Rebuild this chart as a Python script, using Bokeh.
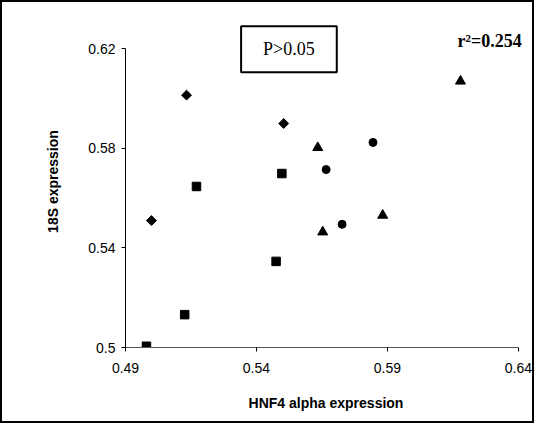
import math
from bokeh.plotting import figure
from bokeh.models import Range1d, FixedTicker, Label
from bokeh.embed import file_html
from bokeh.resources import INLINE

# Data
diamond_x = [0.5133, 0.5504, 0.4999]
diamond_y = [0.6014, 0.5900, 0.5510]
square_x = [0.5171, 0.5497, 0.5475, 0.5126, 0.4980]
square_y = [0.5647, 0.5699, 0.5346, 0.5132, 0.5005]
triangle_x = [0.6179, 0.5634, 0.5653, 0.5882]
triangle_y = [0.6070, 0.5803, 0.5464, 0.5531]
circle_x = [0.5845, 0.5666, 0.5727]
circle_y = [0.5824, 0.5715, 0.5495]

x_ticks = [0.49, 0.54, 0.59, 0.64]
x_tick_labels = ["0.49", "0.54", "0.59", "0.64"]
y_ticks = [0.50, 0.54, 0.58, 0.62]
y_tick_labels = ["0.5", "0.54", "0.58", "0.62"]

x_title = "HNF4 alpha expression"
y_title = "18S expression"
p_text = "P>0.05"
r2_text = "r\u00b2=0.254"

p = figure(width=534, height=423, output_backend="svg", toolbar_location=None,
           x_range=Range1d(0.49, 0.6431), y_range=Range1d(0.50, 0.6334),
           min_border_left=123, min_border_right=10, min_border_top=13,
           min_border_bottom=78)
p.styles = {"border": "2px solid black", "box-sizing": "border-box"}
p.outline_line_color = None
p.xgrid.visible = False
p.ygrid.visible = False
p.background_fill_color = "white"
p.border_fill_color = "white"

p.xaxis.ticker = FixedTicker(ticks=x_ticks)
p.xaxis.major_label_overrides = {t: l for t, l in zip(x_ticks, x_tick_labels)}
p.yaxis.ticker = FixedTicker(ticks=y_ticks)
p.yaxis.major_label_overrides = {t: l for t, l in zip(y_ticks, y_tick_labels)}
p.yaxis.bounds = (y_ticks[0], y_ticks[-1])
p.xaxis.bounds = (x_ticks[0], x_ticks[-1])

for ax in (p.xaxis[0], p.yaxis[0]):
    ax.minor_tick_line_color = None
    ax.major_tick_in = 0
    ax.major_tick_out = 4
    ax.major_tick_line_color = "black"
    ax.major_label_text_font = "Liberation Sans"
    ax.major_label_text_font_size = "14px"
    ax.major_label_text_color = "black"
    ax.axis_label_text_font = "Liberation Sans"
    ax.axis_label_text_font_size = "14px"
    ax.axis_label_text_font_style = "bold"
    ax.axis_label_text_color = "black"

p.xaxis.axis_line_color = "#555555"
p.yaxis.axis_line_color = "black"
p.xaxis.major_label_standoff = 11
p.yaxis.major_label_standoff = 6
p.xaxis.axis_label = x_title
p.yaxis.axis_label = y_title
p.xaxis.axis_label_standoff = 19
p.yaxis.axis_label_standoff = 24

p.scatter(diamond_x, diamond_y, marker="square", angle=math.pi / 4, size=7,
          color="black")
p.scatter(square_x, square_y, marker="square", size=8.5, color="black")
p.scatter(triangle_x, triangle_y, marker="triangle", size=10, color="black")
p.scatter(circle_x, circle_y, marker="circle", size=8, color="black")

p.add_layout(Label(x=0.5524, y=0.6198, text=p_text, text_align="center",
                   text_baseline="middle", text_font="Liberation Serif",
                   text_font_size="18px", text_color="black",
                   border_line_color="black", border_line_width=2,
                   background_fill_color="white",
                   padding=dict(left=22, right=22, top=13, bottom=13)))
p.add_layout(Label(x=0.6290, y=0.6233, text=r2_text, text_align="center",
                   text_baseline="middle", text_font="Liberation Serif",
                   text_font_size="18px", text_font_style="bold",
                   text_color="black"))

open("out.html", "w").write(file_html(p, INLINE))
